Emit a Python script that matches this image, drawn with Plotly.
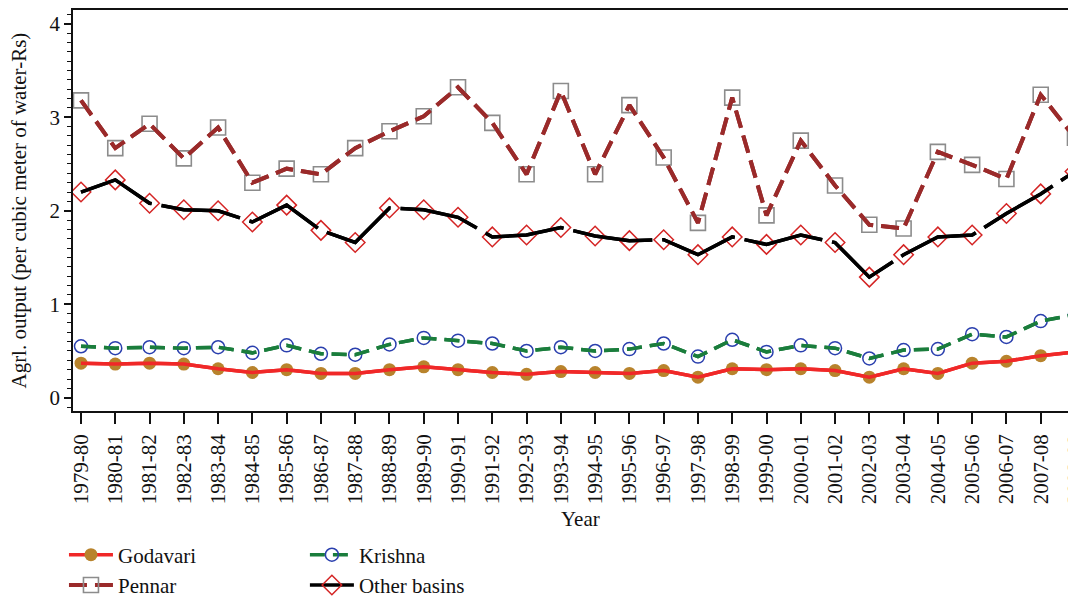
import plotly.graph_objects as go

years = ["1979-80", "1980-81", "1981-82", "1982-83", "1983-84", "1984-85", "1985-86",
         "1986-87", "1987-88", "1988-89", "1989-90", "1990-91", "1991-92", "1992-93",
         "1993-94", "1994-95", "1995-96", "1996-97", "1997-98", "1998-99", "1999-00",
         "2000-01", "2001-02", "2002-03", "2003-04", "2004-05", "2005-06", "2006-07",
         "2007-08", "2008-09"]

godavari = [0.37, 0.36, 0.37, 0.36, 0.31, 0.27, 0.30, 0.26, 0.26, 0.30, 0.33, 0.30,
            0.27, 0.25, 0.28, 0.27, 0.26, 0.29, 0.22, 0.31, 0.30, 0.31, 0.29, 0.22,
            0.31, 0.26, 0.37, 0.39, 0.45, 0.49]
krishna = [0.55, 0.53, 0.54, 0.53, 0.54, 0.48, 0.56, 0.47, 0.46, 0.57, 0.64, 0.61,
           0.58, 0.50, 0.54, 0.50, 0.52, 0.58, 0.44, 0.62, 0.49, 0.56, 0.53, 0.42,
           0.51, 0.52, 0.68, 0.65, 0.82, 0.89]
pennar = [3.18, 2.67, 2.93, 2.56, 2.89, 2.30, 2.45, 2.39, 2.67, 2.85, 3.01, 3.32,
          2.94, 2.39, 3.28, 2.39, 3.13, 2.57, 1.87, 3.21, 1.95, 2.75, 2.27, 1.85,
          1.81, 2.63, 2.49, 2.34, 3.24, 2.78]
other = [2.20, 2.33, 2.08, 2.01, 2.00, 1.88, 2.06, 1.79, 1.66, 2.03, 2.01, 1.93,
         1.72, 1.74, 1.82, 1.73, 1.68, 1.69, 1.53, 1.72, 1.64, 1.74, 1.66, 1.29,
         1.53, 1.72, 1.74, 1.97, 2.18, 2.42]

FONT = "Liberation Serif"

series = [
    # name, values, line color, dash, width, marker symbol, marker color, size, marker line width, legend
    ("Godavari", godavari, "#f02828", "solid", 3.5, "circle", "#b8832c", 13, 0, "legend"),
    ("Pennar", pennar, "#9a2a2a", "18px,8px", 4, "square-open", "#8c8c8c", 15, 1.6, "legend"),
    ("Krishna", krishna, "#1a7d3c", "15px,8px", 3.5, "circle-open", "#2a3fae", 13, 1.5, "legend2"),
    ("Other basins", other, "#000000", "80px,10px", 3.5, "diamond-open", "#d42424", 15, 1.5, "legend2"),
]

fig = go.Figure()
for name, vals, lc, dash, lw, sym, mc, ms, mlw, lg in series:
    mk = dict(symbol=sym, color=mc, size=ms)
    if mlw:
        mk["line"] = dict(color=mc, width=mlw)
    fig.add_trace(go.Scatter(
        x=years, y=vals, name=name, mode="lines+markers",
        line=dict(color=lc, width=lw, dash=dash), marker=mk,
        legend=lg, legendgroup=name))
for name, vals, lc, dash, lw, sym, mc, ms, mlw, lg in series:
    fig.add_trace(go.Scatter(
        x=years, y=vals, name=name, mode="lines", showlegend=False,
        line=dict(color=lc, width=lw, dash=dash), legendgroup=name, hoverinfo="skip"))

# page has an 8px body margin: the figure is sized/offset to compensate
fig.update_layout(
    width=1068, height=589,
    margin=dict(l=65, r=0, t=2, b=186, autoexpand=False),
    paper_bgcolor="white", plot_bgcolor="white",
    font=dict(family=FONT, size=21, color="#111111"),
    legend=dict(xref="container", yref="container", x=0.0524, y=0.106,
                xanchor="left", yanchor="top", orientation="v",
                font=dict(family=FONT, size=21), itemwidth=44,
                tracegroupgap=0, bgcolor="rgba(0,0,0,0)"),
    legend2=dict(xref="container", yref="container", x=0.278, y=0.106,
                 xanchor="left", yanchor="top", orientation="v",
                 font=dict(family=FONT, size=21), itemwidth=44,
                 tracegroupgap=0, bgcolor="rgba(0,0,0,0)"),
    xaxis=dict(type="category", range=[-0.2334, 29.03], showline=True,
               linecolor="#111111", linewidth=1.5, mirror=True, automargin=False,
               tickmode="linear", tick0=0, dtick=1,
               ticks="outside", ticklen=11, tickcolor="#111111", tickwidth=1.5,
               tickangle=-90, showgrid=False, zeroline=False, ticklabelstandoff=2,
               tickfont=dict(family=FONT, size=21)),
    yaxis=dict(range=[-0.142, 4.147], showline=True, linecolor="#111111",
               linewidth=1.5, mirror=False, ticks="outside", ticklen=7,
               tickcolor="#111111", tickwidth=1.5, dtick=1, tick0=0, automargin=False,
               showgrid=False, zeroline=False, ticklabelstandoff=0,
               tickfont=dict(family=FONT, size=21),
               minor=dict(dtick=0.1, ticks="outside", ticklen=4,
                          tickcolor="#111111", tickwidth=1.2, showgrid=False)),
    annotations=[
        dict(text="Year", xref="paper", yref="paper", x=0.506, y=-0.27,
             xanchor="center", yanchor="middle", showarrow=False,
             font=dict(family=FONT, size=21)),
        dict(text="Agrl. output (per cubic meter of water-Rs)", xref="paper",
             yref="paper", x=-0.0548, y=0.5, textangle=-90,
             xanchor="center", yanchor="middle", showarrow=False,
             font=dict(family=FONT, size=21)),
    ],
)

fig.write_html("out.html")
